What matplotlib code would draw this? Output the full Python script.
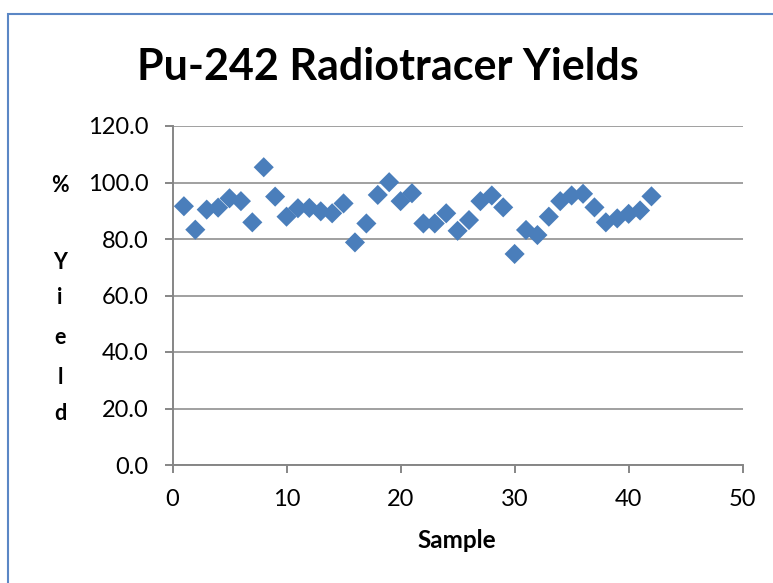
import matplotlib
matplotlib.use("Agg")
import matplotlib.pyplot as plt
from matplotlib.patches import Rectangle

samples = list(range(1, 43))
yields = [91.6, 83.3, 90.4, 91.1, 94.4, 93.4, 85.9, 105.4, 95.0, 87.9,
          90.9, 91.0, 89.8, 89.1, 92.6, 78.8, 85.5, 95.6, 100.1, 93.4,
          96.2, 85.5, 85.5, 89.1, 82.9, 86.7, 93.4, 95.4, 91.2, 74.7,
          83.2, 81.4, 87.9, 93.4, 95.4, 96.0, 91.2, 85.9, 87.3, 88.9,
          90.1, 95.1]
x_ticks = [0, 10, 20, 30, 40, 50]
y_ticks = [0, 20, 40, 60, 80, 100, 120]
title = "Pu-242 Radiotracer Yields"
xlabel = "Sample"
ylabel_letters = ["%", "", "Y", "i", "e", "l", "d"]

plt.rcParams['font.family'] = ['Lato', 'DejaVu Sans']

W, H = 773, 583
fig = plt.figure(figsize=(W / 100, H / 100), dpi=100)
fig.patch.set_facecolor("white")

# chart border (right and bottom edges fall outside the image)
fig.patches.append(Rectangle((8 / W, -0.1), 1.2, 1.1 - 14 / H, transform=fig.transFigure,
                             fill=False, edgecolor="#5B87C5", linewidth=1.5))

ax = fig.add_axes([172.5 / W, 1 - 465 / H, (742.7 - 172.5) / W, (465 - 126) / H])
grid_c = "#868686"
ax.scatter(samples, yields, marker="D", s=105, color="#4A7EBB", edgecolors="none",
           zorder=3, clip_on=False)
ax.set_xlim(0, 50)
ax.set_ylim(0, 120)
ax.set_xticks(x_ticks)
ax.set_yticks(y_ticks)
ax.set_yticklabels([f"{v:.1f}" for v in y_ticks])
ax.yaxis.grid(True, color=grid_c, linewidth=1.1)
ax.set_axisbelow(True)
for s in ["top", "right"]:
    ax.spines[s].set_visible(False)
for s in ["left", "bottom"]:
    ax.spines[s].set_color(grid_c)
    ax.spines[s].set_linewidth(1.4)
ax.tick_params(axis="both", color=grid_c, width=1.4, length=5.5, labelsize=17,
               labelcolor="black")
ax.tick_params(axis="y", pad=12)
ax.tick_params(axis="x", pad=12)

fig.text(388 / W, 1 - 79.5 / H, title, ha="center", va="baseline", fontsize=31,
         fontweight="bold")
fig.text(457 / W, 1 - 548 / H, xlabel, ha="center", va="baseline", fontsize=17.5,
         fontweight="bold")

letter_y = [186, None, 262, 298, 338, 377, 413]
for ch, yy in zip(ylabel_letters, letter_y):
    if ch:
        fig.text(60 / W, 1 - yy / H, ch, ha="center", va="center", fontsize=15.5,
                 fontweight="bold")

fig.savefig("out.png", dpi=100)
